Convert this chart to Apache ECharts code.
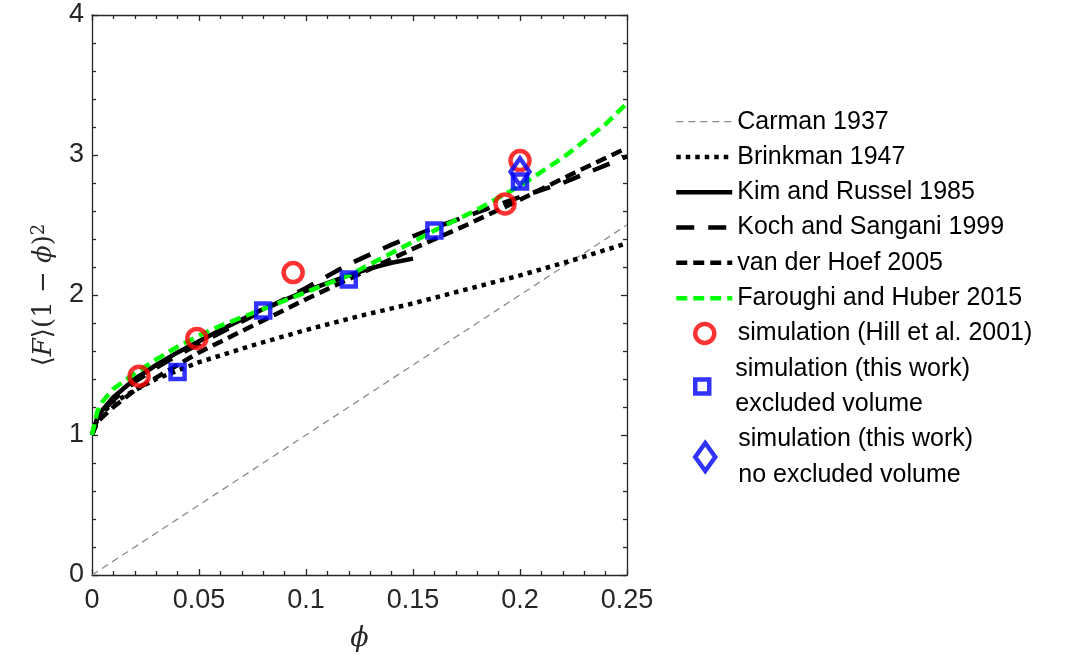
<!DOCTYPE html>
<html>
<head>
<meta charset="utf-8">
<script src="https://cdn.jsdelivr.net/npm/echarts@6/dist/echarts.min.js"></script>
<style>
  html, body { margin: 0; padding: 0; background: #fff; }
  #chart { width: 1081px; height: 657px; }
</style>
</head>
<body>
<div id="chart"></div>
<script>
/* model curves */
const carmanPhi = [0, 0.25];
const carmanVal = [0, 2.5];

const brinkmanPhi = [0, 0.0025, 0.005, 0.01, 0.02, 0.03, 0.04, 0.05, 0.075, 0.1, 0.125, 0.15, 0.175, 0.2, 0.225, 0.25];
const brinkmanVal = [1.0, 1.11, 1.16, 1.23, 1.32, 1.40, 1.46, 1.52, 1.64, 1.75, 1.85, 1.94, 2.04, 2.14, 2.25, 2.37];

const kimPhi = [0, 0.0025, 0.005, 0.01, 0.02, 0.03, 0.04, 0.05, 0.06, 0.08, 0.1, 0.12, 0.13, 0.14, 0.15];
const kimVal = [1.0, 1.12, 1.18, 1.27, 1.40, 1.50, 1.59, 1.67, 1.75, 1.90, 2.03, 2.14, 2.19, 2.23, 2.26];

const kochPhi = [0, 0.0025, 0.005, 0.01, 0.02, 0.03, 0.04, 0.05, 0.075, 0.1, 0.12, 0.14, 0.16, 0.18, 0.2, 0.22, 0.25];
const kochVal = [1.0, 1.12, 1.17, 1.25, 1.38, 1.48, 1.57, 1.65, 1.85, 2.05, 2.22, 2.36, 2.48, 2.59, 2.70, 2.80, 2.99];

const hoefPhi = [0, 0.0025, 0.005, 0.01, 0.02, 0.03, 0.04, 0.05, 0.075, 0.1, 0.125, 0.15, 0.175, 0.2, 0.225, 0.25];
const hoefVal = [1.0, 1.09, 1.13, 1.20, 1.32, 1.41, 1.50, 1.59, 1.78, 1.97, 2.15, 2.33, 2.50, 2.68, 2.87, 3.05];

const faroughiPhi = [0, 0.0025, 0.005, 0.01, 0.02, 0.03, 0.04, 0.05, 0.06, 0.08, 0.1, 0.12, 0.14, 0.16, 0.18, 0.2, 0.22, 0.24, 0.25];
const faroughiVal = [1.0, 1.17, 1.24, 1.33, 1.44, 1.54, 1.63, 1.71, 1.78, 1.90, 2.02, 2.14, 2.30, 2.46, 2.61, 2.78, 2.98, 3.22, 3.37];

/* simulation points */
const hillPhi = [0.022, 0.049, 0.094, 0.193, 0.2];
const hillVal = [1.42, 1.69, 2.16, 2.65, 2.96];

const exclPhi = [0.04, 0.08, 0.12, 0.16, 0.2];
const exclVal = [1.45, 1.89, 2.11, 2.46, 2.81];

const noExclPhi = [0.2];
const noExclVal = [2.88];

/* tick labels */
const xTicks = ['0', '0.05', '0.1', '0.15', '0.2', '0.25'];
const yTicks = ['0', '1', '2', '3', '4'];

/* legend names */
const lineNames = ['Carman 1937', 'Brinkman 1947', 'Kim and Russel 1985', 'Koch and Sangani 1999',
  'van der Hoef 2005', 'Faroughi and Huber 2015'];
const hillName = 'simulation (Hill et al. 2001)';
const exclName = 'simulation (this work)\nexcluded volume';
const noExclName = 'simulation (this work)\nno excluded volume';

function pairs(xs, ys) {
  return xs.map((x, i) => [x, ys[i]]);
}

const axisColor = '#262626';
const font = 'Liberation Sans, Arial, sans-serif';
const serif = 'DejaVu Serif, serif';
const rowH = 35.3;
const legendTop = 104;
const legendText = { fontFamily: font, fontSize: 25, color: '#000', lineHeight: rowH };

const chart = echarts.init(document.getElementById('chart'));

function lineSeries(name, xs, ys, color, width, type) {
  return {
    name: name,
    type: 'line',
    data: pairs(xs, ys),
    symbol: 'none',
    lineStyle: { color: color, width: width, type: type },
    itemStyle: { color: color },
    z: 2
  };
}

function frameAxis(pos, isX) {
  return {
    type: 'value',
    position: pos,
    min: 0,
    max: isX ? 0.25 : 4,
    interval: isX ? 0.05 : 1,
    axisLine: { show: true, onZero: false, lineStyle: { color: axisColor, width: 1.3 } },
    axisTick: { show: true, inside: true, length: 6, lineStyle: { color: axisColor, width: 1.3 } },
    minorTick: { show: true, splitNumber: 5, length: 4, lineStyle: { color: axisColor, width: 1.3 } },
    axisLabel: { show: false },
    splitLine: { show: false }
  };
}

/* one legend per marker size */
function markerLegend(name, icon, h, row) {
  return {
    orient: 'vertical',
    left: 693,
    top: legendTop + row * rowH,
    padding: 0,
    itemWidth: 56,
    itemHeight: h,
    icon: icon,
    symbolKeepAspect: true,
    itemStyle: { borderWidth: 4.5 },
    textStyle: legendText,
    data: [name]
  };
}

const option = {
  backgroundColor: '#fff',
  animation: false,
  grid: { left: 92, top: 15, right: 454, bottom: 82, containLabel: false },
  legend: [
    {
      orient: 'vertical',
      left: 674,
      top: legendTop,
      padding: 0,
      itemWidth: 56,
      itemHeight: 14,
      itemGap: 0,
      lineStyle: { width: 'inherit' },
      textStyle: legendText,
      data: lineNames.map(n => ({ name: n, itemStyle: { opacity: 0 } }))
    },
    markerLegend(hillName, 'circle', 19, 6),
    markerLegend(exclName, 'path://M0,0H10V10H0Z', 14, 7),
    markerLegend(noExclName, 'path://M10,0L20,14L10,28L0,14Z', 28, 9)
  ],
  xAxis: [
    Object.assign(frameAxis('bottom', true), {
      axisLabel: {
        show: true, fontFamily: font, fontSize: 27, color: axisColor, margin: 12,
        formatter: v => xTicks[Math.round(v / 0.05)]
      },
      name: 'ϕ',
      nameLocation: 'middle',
      nameGap: 50,
      nameTextStyle: { fontFamily: serif, fontStyle: 'italic', fontSize: 27, color: axisColor }
    }),
    frameAxis('top', true)
  ],
  yAxis: [
    Object.assign(frameAxis('left', false), {
      axisLabel: {
        show: true, fontFamily: font, fontSize: 27, color: axisColor, margin: 8,
        formatter: v => yTicks[Math.round(v)]
      },
      name: '{n|⟨}{i|F}{n|⟩(1 − }{i|ϕ}{n|)}{s|2}',
      nameLocation: 'middle',
      nameGap: 34,
      nameRotate: 90,
      nameTextStyle: {
        rich: {
          n: { fontFamily: serif, fontSize: 26, color: axisColor },
          i: { fontFamily: serif, fontStyle: 'italic', fontSize: 26, color: axisColor },
          s: { fontFamily: serif, fontSize: 18, color: axisColor, verticalAlign: 'top', padding: [0, 0, 10, 0] }
        }
      }
    }),
    frameAxis('right', false)
  ],
  series: [
    lineSeries(lineNames[0], carmanPhi, carmanVal, '#8c8c8c', 1.3, [7, 5]),
    lineSeries(lineNames[1], brinkmanPhi, brinkmanVal, '#000', 4.5, [4.5, 5]),
    lineSeries(lineNames[2], kimPhi, kimVal, '#000', 4.5, 'solid'),
    lineSeries(lineNames[3], kochPhi, kochVal, '#000', 4.5, [18, 14]),
    lineSeries(lineNames[4], hoefPhi, hoefVal, '#000', 4.5, [11, 6]),
    lineSeries(lineNames[5], faroughiPhi, faroughiVal, '#00ff00', 4.5, [11, 6]),
    {
      name: hillName,
      type: 'scatter',
      data: pairs(hillPhi, hillVal),
      symbol: 'circle',
      symbolSize: 19,
      itemStyle: { color: 'rgba(255,255,255,0)', borderColor: '#ff0000', borderWidth: 4.5 },
      z: 4
    },
    {
      name: exclName,
      type: 'scatter',
      data: pairs(exclPhi, exclVal),
      symbol: 'rect',
      symbolSize: 14,
      itemStyle: { color: 'rgba(255,255,255,0)', borderColor: '#0000ff', borderWidth: 4.5 },
      z: 5
    },
    {
      name: noExclName,
      type: 'scatter',
      data: pairs(noExclPhi, noExclVal),
      symbol: 'diamond',
      symbolSize: [19, 27],
      itemStyle: { color: 'rgba(255,255,255,0)', borderColor: '#0000ff', borderWidth: 4.5 },
      z: 6
    }
  ]
};

chart.setOption(option);
</script>
</body>
</html>
